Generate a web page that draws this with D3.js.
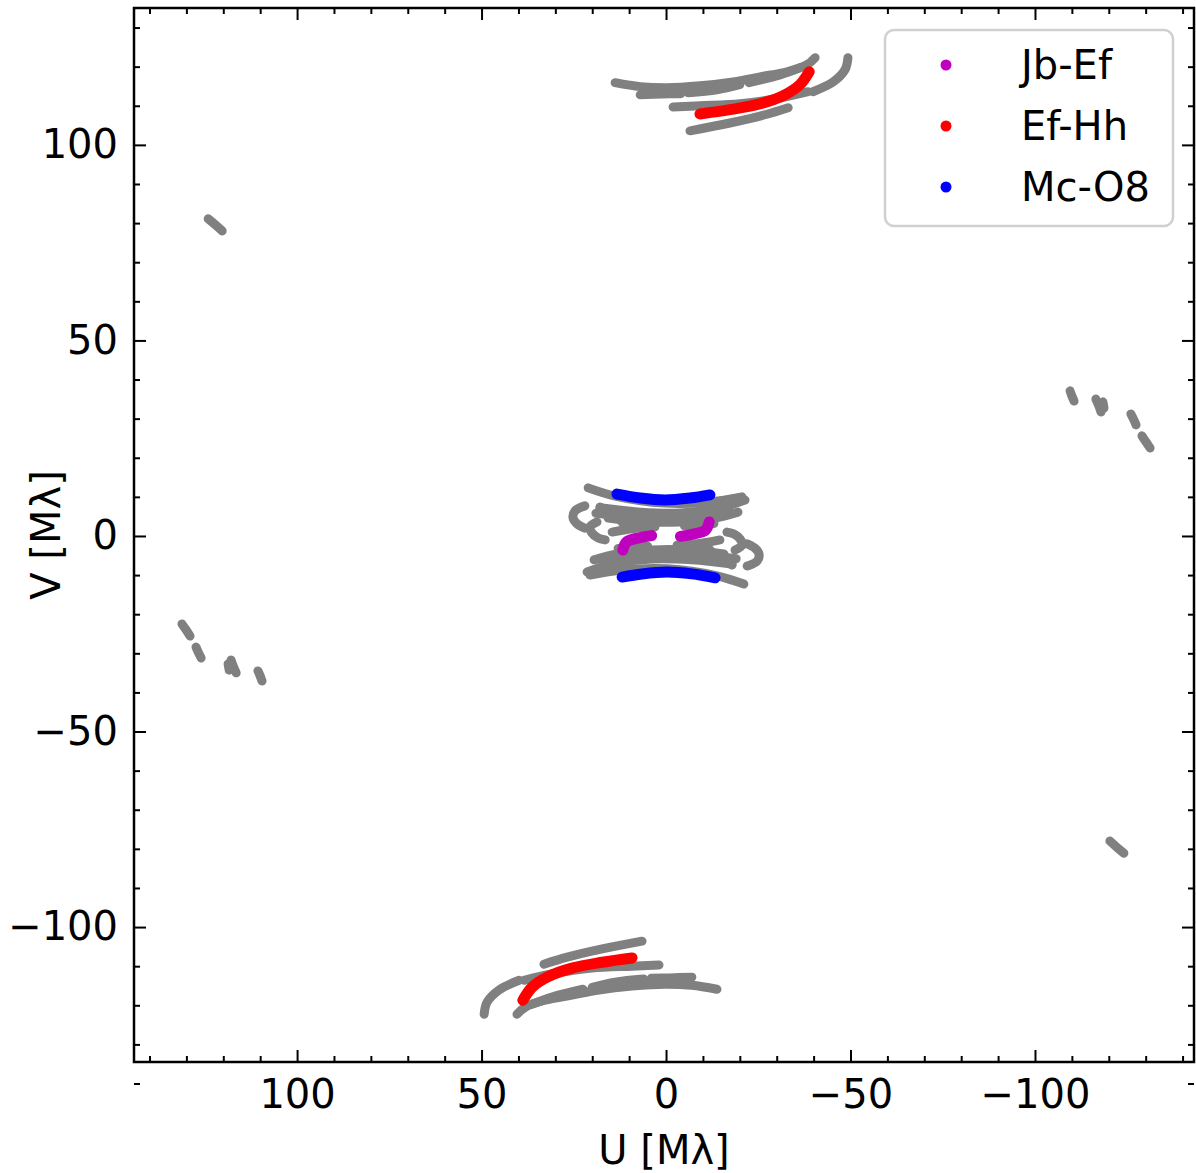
<!DOCTYPE html>
<html>
<head>
<meta charset="utf-8">
<script src="https://cdn.jsdelivr.net/npm/d3@7"></script>
<style>
  html, body { margin: 0; padding: 0; background: #fff; }
  svg text { font-family: "DejaVu Sans", sans-serif; }
</style>
</head>
<body>
<svg id="chart" width="1196" height="1173"></svg>
<script>
// ---- Data (U, V in Mλ); each track is listed once, its conjugate (-U,-V) is also plotted ----
const uDomain = [144.2, -143.1];
const vDomain = [135, -134.5];
const majorTicks = [-100, -50, 0, 50, 100];
const minorTicks = [-140,-130,-120,-110,-90,-80,-70,-60,-40,-30,-20,-10,10,20,30,40,60,70,80,90,110,120,130,140];

const legendLabels = ["Jb-Ef", "Ef-Hh", "Mc-O8"];
const legendColors = ["#bf00bf", "#ff0000", "#0000ff"];

// all-baseline tracks (grey)
const greyTracks = [
  // top/bottom clusters
  [[13.8,115.9],[7.0,114.9],[-0.3,114.6],[-9.2,115.1],[-18.2,116.1],[-25.5,117.4],[-32.8,118.7],[-38.2,120.5],[-40.4,122.3]],
  [[7.0,112.8],[1.0,113.0],[-4.0,113.1]],
  [[-6.0,113.3],[-13.8,114.1],[-20.0,115.4]],
  [[-22.5,115.9],[-30.9,117.9],[-36.3,119.7]],
  [[4.0,114.0],[-6.0,114.2],[-16.0,115.0]],
  [[-1.9,109.7],[-9.2,110.0],[-20.1,110.5],[-30.9,112.0],[-38.5,113.6]],
  [[-6.5,103.6],[-17.3,105.6],[-26.8,107.7],[-33.1,109.5]],
  [[-39.8,113.6],[-45.3,116.1],[-48.5,119.2],[-49.3,122.3]],
  // central cluster
  [[21.1,12.3],[13.8,10.2],[0.3,8.4],[-11.9,8.7],[-20.6,10.0]],
  [[17.9,7.2],[7.0,6.1],[-3.8,5.9],[-14.6,7.2],[-21.4,9.2]],
  [[19.0,5.8],[10.0,5.0],[0.0,4.7],[-10.0,5.2],[-17.0,6.8]],
  [[15.7,4.6],[5.7,3.6],[-3.8,3.6],[-13.3,4.6],[-19.5,6.1]],
  [[14.6,1.0],[8.4,2.0],[3.0,2.3]],
  [[-5.0,2.6],[-13.0,3.2]],
  [[17.9,7.4],[13.0,4.6],[10.6,2.0]],
  [[22.0,7.7],[24.7,6.4],[25.2,4.6],[24.1,3.1],[22.0,2.0]],
  [[18.7,3.6],[20.6,2.3],[20.1,0.8],[18.4,-0.5],[16.5,-1.0]],
  // long baselines (left/right)
  [[124.1,81.1],[122.2,79.6],[120.3,78.0]],
  [[131.2,-22.5],[130.1,-24.0],[129.0,-25.6]],
  [[127.4,-28.4],[126.8,-29.7],[126.0,-31.2]],
  [[117.9,-31.7],[117.3,-33.3],[116.5,-35.0]],
  [[118.7,-32.7],[118.4,-34.3]],
  [[110.6,-34.5],[110.0,-35.8],[109.5,-37.1]]
];

// highlighted baselines
const jbEf = [[11.7,-3.6],[10.7,-1.5],[7.0,-0.4],[3.9,0.1]];
const efHh = [[-9.2,107.9],[-17.3,109.0],[-25.5,110.5],[-32.2,112.8],[-36.3,115.4],[-38.8,118.7]];
const mcO8 = [[13.3,10.7],[7.0,9.7],[0.3,9.2],[-6.5,9.7],[-11.9,10.5]];

// ---- Layout ----
const svg = d3.select("#chart");
const L = 134, R = 1194, T = 8, B = 1062;
const x = d3.scaleLinear().domain(uDomain).range([L, R]);
const y = d3.scaleLinear().domain(vDomain).range([T, B]);

svg.append("defs").append("clipPath").attr("id", "clip")
  .append("rect").attr("x", L).attr("y", T).attr("width", R - L).attr("height", B - T);

const conj = t => t.map(([u, v]) => [-u, -v]);
const line = d3.line().x(d => x(d[0])).y(d => y(d[1])).curve(d3.curveCatmullRom);

const plot = svg.append("g").attr("clip-path", "url(#clip)");

function drawTracks(tracks, color, width) {
  const all = [];
  tracks.forEach(t => { all.push(t); all.push(conj(t)); });
  plot.append("g").selectAll("path").data(all).join("path")
    .attr("d", line)
    .attr("fill", "none")
    .attr("stroke", color)
    .attr("stroke-width", width)
    .attr("stroke-linecap", "round")
    .attr("stroke-linejoin", "round");
}

drawTracks(greyTracks, "#808080", 9);
drawTracks([jbEf], legendColors[0], 11);
drawTracks([efHh], legendColors[1], 11);
drawTracks([mcO8], legendColors[2], 11);

// ---- Axes (inward ticks on all four sides) ----
const fontSize = 40;
function styleAxis(g) {
  g.select(".domain").remove();
  g.selectAll(".tick line").attr("stroke", "#000").attr("stroke-width", 2);
  g.selectAll(".tick text").attr("font-size", fontSize).attr("fill", "#000")
    .attr("font-family", "DejaVu Sans, sans-serif");
}

// bottom
svg.append("g").attr("transform", `translate(0,${B})`)
  .call(d3.axisBottom(x).tickValues(majorTicks).tickSize(-12).tickPadding(18)).call(styleAxis);
svg.append("g").attr("transform", `translate(0,${B})`)
  .call(d3.axisBottom(x).tickValues(minorTicks).tickSize(-6).tickFormat("")).call(styleAxis);
// top
svg.append("g").attr("transform", `translate(0,${T})`)
  .call(d3.axisTop(x).tickValues(majorTicks).tickSize(-12).tickFormat("")).call(styleAxis);
svg.append("g").attr("transform", `translate(0,${T})`)
  .call(d3.axisTop(x).tickValues(minorTicks).tickSize(-6).tickFormat("")).call(styleAxis);
// left
svg.append("g").attr("transform", `translate(${L},0)`)
  .call(d3.axisLeft(y).tickValues(majorTicks).tickSize(-12).tickPadding(16)).call(styleAxis);
svg.append("g").attr("transform", `translate(${L},0)`)
  .call(d3.axisLeft(y).tickValues(minorTicks).tickSize(-6).tickFormat("")).call(styleAxis);
// right
svg.append("g").attr("transform", `translate(${R},0)`)
  .call(d3.axisRight(y).tickValues(majorTicks).tickSize(-12).tickFormat("")).call(styleAxis);
svg.append("g").attr("transform", `translate(${R},0)`)
  .call(d3.axisRight(y).tickValues(minorTicks).tickSize(-6).tickFormat("")).call(styleAxis);

// frame
svg.append("rect").attr("x", L).attr("y", T).attr("width", R - L).attr("height", B - T)
  .attr("fill", "none").attr("stroke", "#000").attr("stroke-width", 2.5);

// axis labels
svg.append("text").attr("x", (L + R) / 2).attr("y", 1164).attr("text-anchor", "middle")
  .attr("font-size", fontSize).text("U [Mλ]");
svg.append("text").attr("transform", `translate(60,${(T + B) / 2}) rotate(-90)`)
  .attr("text-anchor", "middle").attr("font-size", fontSize).text("V [Mλ]");

// ---- Legend ----
const lg = svg.append("g");
lg.append("rect").attr("x", 885).attr("y", 30).attr("width", 288).attr("height", 196)
  .attr("rx", 9).attr("ry", 9)
  .attr("fill", "#fff").attr("fill-opacity", 0.85)
  .attr("stroke", "#d0d0d0").attr("stroke-width", 2.5);
const rows = lg.selectAll("g.row").data(legendLabels).join("g").attr("class", "row")
  .attr("transform", (d, i) => `translate(0,${65 + i * 61})`);
rows.append("circle").attr("cx", 946).attr("cy", 0).attr("r", 5.5)
  .attr("fill", (d, i) => legendColors[i]);
rows.append("text").attr("x", 1021).attr("y", 0).attr("dy", "0.36em")
  .attr("font-size", fontSize).text(d => d);
</script>
</body>
</html>
